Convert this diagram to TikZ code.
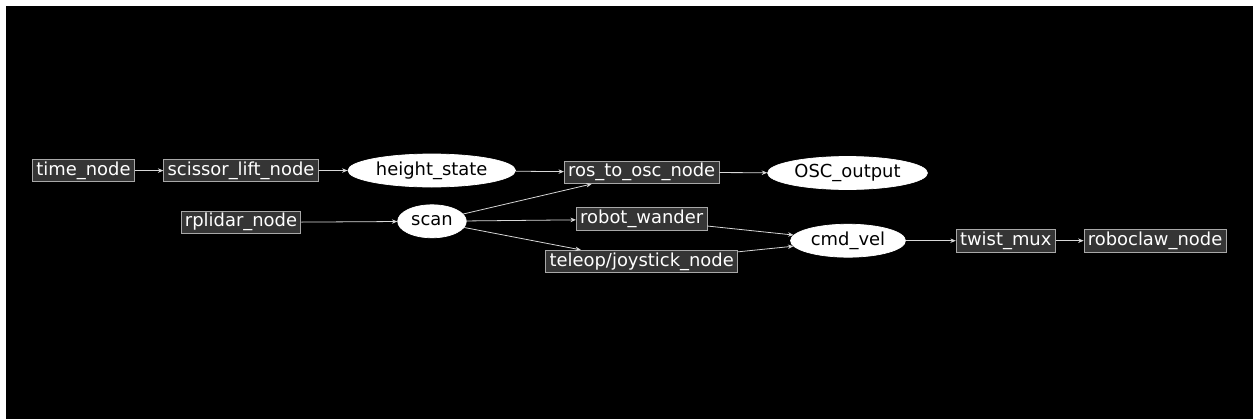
\documentclass[tikz,border=0pt]{standalone}
\usepackage{fontspec}
\setmainfont{DejaVu Sans}
\usetikzlibrary{arrows.meta,positioning,shapes.geometric}
\definecolor{rosBox}{HTML}{353535}
\definecolor{rosBorder}{HTML}{A8A8A8}
\definecolor{rosEdge}{HTML}{D8D8D8}
\tikzset{
  rosbox/.style={draw=rosBorder, fill=rosBox, text=white, line width=0.5pt, inner xsep=0.75mm, inner ysep=0.45mm, text height=2.7mm, text depth=0.9mm, font=\fontsize{10.2}{12}\selectfont},
  topic/.style={ellipse, draw=white, fill=white, text=black, inner xsep=0.7mm, inner ysep=0.3mm, minimum height=6.6mm, text height=2.7mm, text depth=0.9mm, font=\fontsize{10.2}{12}\selectfont},
  arrmsg/.style={-{Stealth[length=1.1mm, width=0.9mm]}, draw=rosEdge, line width=0.45pt},
}
\begin{document}
\begin{tikzpicture}[x=0.2mm, y=-0.2mm, node distance=5.6mm]
\fill[white] (0,0) rectangle (1253,419);
\fill[black] (6,6) rectangle (1253,419);

% ros nodes and topics
\node[rosbox] (time) at (83.5,170.6) {time\_node};
\node[rosbox] (scissor) at (241,170.6) {scissor\_lift\_node};
\node[rosbox, below=5.7mm of scissor] (rplidar) {rplidar\_node};
\node[topic] (height) at (431.7,170.5) {height\_state};
\node[topic] (scan) at (432,221.3) {scan};
\node[rosbox] (rostoosc) at (641.7,172.3) {ros\_to\_osc\_node};
\node[rosbox, below=4.7mm of rostoosc] (wander) {robot\_wander};
\node[rosbox, below=3.8mm of wander] (teleop) {teleop/joystick\_node};
\node[topic] (oscout) at (847.5,173) {OSC\_output};
\node[topic] (cmdvel) at (848,240.7) {cmd\_vel};
\node[rosbox, right=10mm of cmdvel] (twist) {twist\_mux};
\node[rosbox, right=of twist] (roboclaw) {roboclaw\_node};

% message flow
\draw[arrmsg] (time) -- (scissor);
\draw[arrmsg] (scissor) -- (height);
\draw[arrmsg] (height) -- (rostoosc);
\draw[arrmsg] (rostoosc) -- (oscout);
\draw[arrmsg] (rplidar) -- (scan);
\draw[arrmsg] (scan) -- (rostoosc);
\draw[arrmsg] (scan) -- (wander);
\draw[arrmsg] (scan) -- (teleop);
\draw[arrmsg] (wander) -- (cmdvel);
\draw[arrmsg] (teleop) -- (cmdvel);
\draw[arrmsg] (cmdvel) -- (twist);
\draw[arrmsg] (twist) -- (roboclaw);
\end{tikzpicture}
\end{document}
